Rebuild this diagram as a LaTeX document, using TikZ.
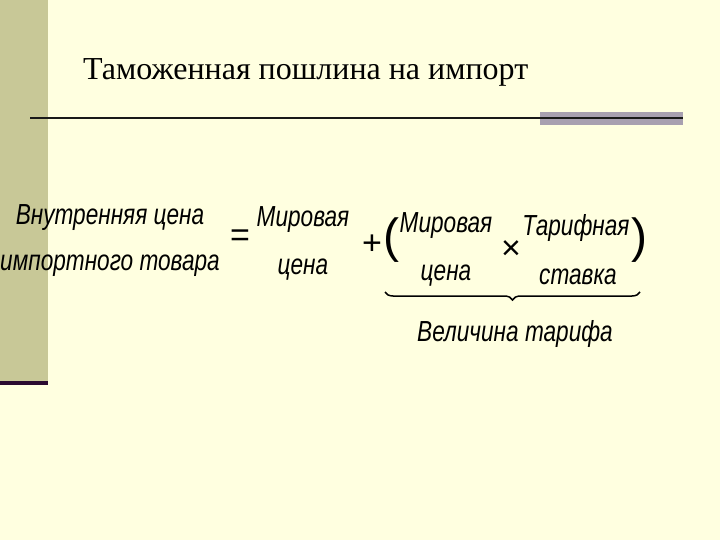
\documentclass[tikz,border=0pt]{standalone}
\usepackage{fontspec}
\setmainfont{Liberation Serif}
\newfontfamily\hand{Liberation Sans}
\usetikzlibrary{decorations.pathreplacing}
\definecolor{bg}{HTML}{FFFFE0}
\definecolor{barc}{HTML}{C8C897}
\definecolor{greyb}{HTML}{A8A0B0}
\definecolor{darkp}{HTML}{2A0A30}
\newcommand{\hw}[1]{\scalebox{0.78}[1]{\hand\itshape\fontsize{29}{30}\selectfont #1}}
\begin{document}
\begin{tikzpicture}[x=1pt,y=-1pt,
  f/.style={inner sep=0pt, anchor=base},
  big/.style={font=\hand\fontsize{34}{36}\selectfont, inner sep=0pt}]
\fill[bg] (0,0) rectangle (720,540);
\useasboundingbox (0,0) rectangle (720,540);
\fill[barc] (0,0) rectangle (48,381);
\fill[darkp] (0,381) rectangle (48,385);
\fill[greyb] (540,112) rectangle (683,125);
\draw[line width=2pt,black!90] (30,118) -- (683,118);
\node[font=\fontsize{32}{33}\selectfont, anchor=base west, inner sep=0pt] (title) at (83,80) {Таможенная пошлина на импорт};
\node[f] (a1) at (110,225) {\hw{Внутренняя цена}};
\node[f] (a2) at (110,270) {\hw{импортного товара}};
\node[big] (eq) at (240,238) {=};
\node[f] (b1) at (303,226) {\hw{Мировая}};
\node[f] (b2) at (303,274) {\hw{цена}};
\node[big] (plus) at (372,245) {+};
\node[big, font=\hand\fontsize{48}{48}\selectfont] (lp) at (391,240) {(};
\node[f] (c1) at (446,233) {\hw{Мировая}};
\node[f] (c2) at (446,280) {\hw{цена}};
\node[font=\hand\fontsize{34}{34}\selectfont, inner sep=0pt] (times) at (511,250) {×};
\node[f] (d1) at (576,236) {\hw{Тарифная}};
\node[f] (d2) at (578,284) {\hw{ставка}};
\node[big, font=\hand\fontsize{48}{48}\selectfont] (rp) at (639,240) {)};
\coordinate (bl) at (385,292);
\coordinate (br) at (640,292);
\draw[line width=1.5pt, decorate, decoration={brace, mirror, amplitude=8pt}] (bl) -- (br);
\node[f] (v) at (515,341) {\hw{Величина тарифа}};
\end{tikzpicture}
\end{document}
